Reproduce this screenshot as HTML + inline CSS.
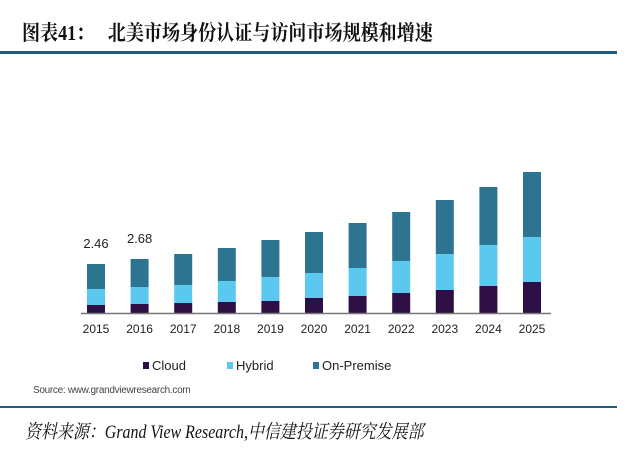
<!DOCTYPE html>
<html><head><meta charset="utf-8"><style>
body{margin:0;background:#fff;width:640px;height:470px;overflow:hidden;position:relative}
.t{position:absolute;white-space:nowrap;transform-origin:0 0}
</style></head><body>
<div class="t" style="left:22px;top:17px;font:bold 21px 'Liberation Serif','Noto Serif CJK SC',serif;color:#111;transform:scaleX(0.86)">图表41：&nbsp;&nbsp;&nbsp;北美市场身份认证与访问市场规模和增速</div>
<div style="position:absolute;left:0;top:51px;width:617px;height:3px;background:#1f5a80"></div>
<svg id="c" width="640" height="470" style="position:absolute;left:0;top:0"></svg>
<div class="t" style="left:33px;top:385px;font:10px 'Liberation Sans',sans-serif;color:#444;letter-spacing:-0.3px">Source: www.grandviewresearch.com</div>
<div style="position:absolute;left:0;top:406px;width:617px;height:2px;background:#1f5a80"></div>
<div class="t" style="left:25px;top:417px;font:italic 19px 'Liberation Serif','Noto Serif CJK SC',serif;color:#111;transform:scaleX(0.84)">资料来源：Grand View Research,中信建投证券研究发展部</div>
<script>
const years=['2015','2016','2017','2018','2019','2020','2021','2022','2023','2024','2025'];
const cloud=[0.40,0.45,0.5,0.55,0.6,0.75,0.85,1.0,1.15,1.35,1.55];
const hybrid=[0.8,0.85,0.9,1.05,1.2,1.25,1.4,1.6,1.8,2.05,2.25];
const onPremise=[1.25,1.4,1.55,1.65,1.85,2.05,2.25,2.45,2.7,2.9,3.25];
const labels=['2.46','2.68'];
const NS='http://www.w3.org/2000/svg',svg=document.getElementById('c');
const base=313,k=20,x0=87,step=43.6,bw=18;
const y=v=>base-v*k, x=i=>x0+i*step;
function mk(t,a){const e=document.createElementNS(NS,t);for(const n in a)e.setAttribute(n,a[n]);svg.appendChild(e);return e;}
const series=[[cloud,'#2e0f45','cloud'],[hybrid,'#5bc8ef','hybrid'],[onPremise,'#2d7490','on-premise']];
years.forEach((yr,i)=>{let acc=0;
 series.forEach(([d,c,n])=>{const r=mk('rect',{x:x(i),y:y(acc+d[i]),width:bw,height:d[i]*k,fill:c});
  
  acc+=d[i];});
 const t=mk('text',{x:x(i)+bw/2,y:333,'text-anchor':'middle','font-family':'Liberation Sans,sans-serif','font-size':'12',fill:'#222'});t.textContent=yr;
 
 
 if(i<labels.length){const tot=cloud[i]+hybrid[i]+onPremise[i];const l=mk('text',{x:x(i)+bw/2,y:y(tot)-16,'text-anchor':'middle','font-family':'Liberation Sans,sans-serif','font-size':'13',fill:'#222'});l.textContent=labels[i];
  
  }
});
const ax=mk('line',{x1:81,x2:551,y1:base+0.5,y2:base+0.5,stroke:'#777','stroke-width':1.5});


[['Cloud',143],['Hybrid',227],['On-Premise',313]].forEach(([n,lx],j)=>{
 const s=mk('rect',{x:lx,y:362,width:6,height:7,fill:series[j][1]});
 
 
 const t=mk('text',{x:lx+9,y:370,'font-family':'Liberation Sans,sans-serif','font-size':'13',fill:'#222'});t.textContent=n;
 
 
});
</script>
</body></html>
